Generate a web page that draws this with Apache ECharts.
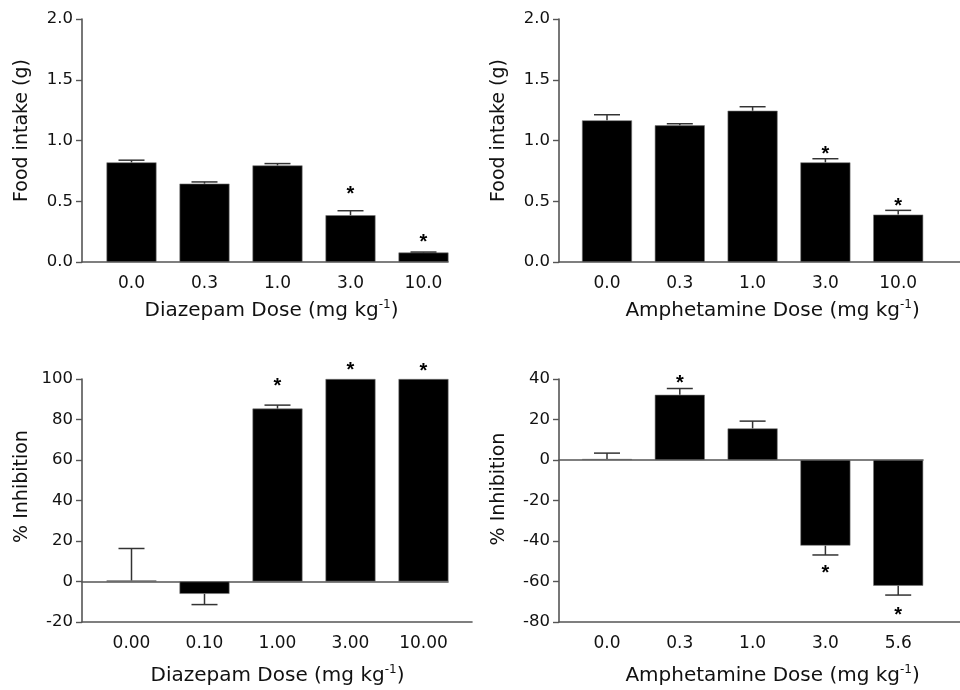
<!DOCTYPE html>
<html>
<head>
<meta charset="utf-8">
<script src="https://cdn.jsdelivr.net/npm/echarts@6/dist/echarts.min.js"></script>
<style>html,body{margin:0;padding:0;background:#fff}#c{width:960px;height:690px}</style>
</head>
<body>
<div id="c"></div>
<script>
// ---- data ----
const doseTopLabels = ['0.0', '0.3', '1.0', '3.0', '10.0'];
const diazIntake = [0.82, 0.645, 0.795, 0.385, 0.078];
const diazIntakeErr = [0.018, 0.014, 0.015, 0.037, 0.004];
const diazIntakeStars = [null, null, null, 0.593, 0.2];

const amphIntake = [1.166, 1.125, 1.245, 0.82, 0.39];
const amphIntakeErr = [0.046, 0.013, 0.033, 0.03, 0.035];
const amphIntakeStars = [null, null, null, 0.928, 0.502];

const diazInhibLabels = ['0.00', '0.10', '1.00', '3.00', '10.00'];
const diazInhib = [0.5, -6.1, 85.4, 100, 100];
const diazInhibErr = [15.8, 5.3, 1.7, 0, 0];
const diazInhibStars = [null, null, 98.6, 106.8, 106.3];

const amphInhibLabels = ['0.0', '0.3', '1.0', '3.0', '5.6'];
const amphInhib = [0.5, 32.2, 15.6, -42.3, -62.1];
const amphInhibErr = [2.9, 3.1, 3.6, 4.6, 4.6];
const amphInhibStars = [null, 40.5, null, -53.7, -74.4];

const intakeTicks = {min: 0, max: 2, interval: 0.5};
const diazInhibTicks = {min: -20, max: 100, interval: 20};
const amphInhibTicks = {min: -80, max: 40, interval: 20};

// ---- styling ----
const FONT = 'DejaVu Sans';
const AXIS_COLOR = '#555';
const TEXT_COLOR = '#111';

const grids = [], xAxes = [], yAxes = [], series = [];

function addGrid(g) { grids.push(Object.assign({containLabel: false}, g)); return grids.length - 1; }

function panel(p) {
  const top = p.top, height = 243;
  const valueAxisBase = (show, gi) => ({
    type: 'value', gridIndex: gi, min: p.ticks.min, max: p.ticks.max, interval: p.ticks.interval,
    show: show, splitLine: {show: false}
  });
  // frame grid: visible y axis + bottom axis line
  const gA = addGrid({left: p.axisLeft, width: p.axisWidth, top: top, height: height});
  xAxes.push({type: 'category', gridIndex: gA, data: p.labels,
    axisLine: {onZero: false, lineStyle: {color: AXIS_COLOR, width: 1.6}},
    axisTick: {show: false}, axisLabel: {show: false}, splitLine: {show: false}});
  const yA = valueAxisBase(true, gA);
  yA.axisLine = {show: true, lineStyle: {color: AXIS_COLOR, width: 1.6}};
  yA.axisTick = {show: true, length: 6, lineStyle: {color: AXIS_COLOR, width: 1.4}};
  yA.axisLabel = {fontFamily: FONT, fontSize: 16.5, color: TEXT_COLOR, margin: 9,
    formatter: v => p.tickFmt(v)};
  yA.name = p.yName;
  yA.nameLocation = 'middle';
  yA.nameGap = 50;
  yA.nameTextStyle = {fontFamily: FONT, fontSize: 19, color: TEXT_COLOR, padding: [0, 0, 0, p.yNameShift]};
  yAxes.push(yA);

  // zero line grid (for panels with negative range)
  if (p.zeroWidth) {
    const gZ = addGrid({left: p.axisLeft, width: p.zeroWidth, top: top, height: height});
    xAxes.push({type: 'category', gridIndex: gZ, data: p.labels,
      axisLine: {onZero: true, lineStyle: {color: AXIS_COLOR, width: 1.6}},
      axisTick: {show: false}, axisLabel: {show: false}});
    yAxes.push(valueAxisBase(false, gZ));
  }

  // bars grid
  const gB = addGrid({left: p.bandLeft, width: p.bandWidth, top: top, height: height});
  const xB = xAxes.length;
  xAxes.push({type: 'category', gridIndex: gB, data: p.labels,
    axisLine: {show: false}, axisTick: {show: false},
    axisLabel: {fontFamily: FONT, fontSize: 17, color: TEXT_COLOR, margin: 13},
    name: '{a|' + p.xName + ' (mg kg}{s|-1}{a|)}',
    nameLocation: 'middle', nameGap: p.xNameGap,
    nameTextStyle: {padding: p.xNamePad, rich: {
      a: {fontFamily: FONT, fontSize: 20, color: TEXT_COLOR, lineHeight: 24},
      s: {fontFamily: FONT, fontSize: 12, color: TEXT_COLOR, verticalAlign: 'top', lineHeight: 12}
    }}});
  const yB = yAxes.length;
  yAxes.push(valueAxisBase(false, gB));

  series.push({type: 'bar', xAxisIndex: xB, yAxisIndex: yB, data: p.values, barWidth: 50,
    itemStyle: {color: '#000', borderColor: '#777', borderWidth: 0.6}, silent: true, z: 2});

  series.push({type: 'custom', xAxisIndex: xB, yAxisIndex: yB, z: 3, silent: true,
    data: p.values.map((v, i) => [i, v, p.errs[i]]),
    renderItem: (params, api) => {
      const i = api.value(0), v = api.value(1), e = api.value(2);
      if (!e) return null;
      const p0 = api.coord([i, v]);
      const p1 = api.coord([i, v + (v >= 0 ? e : -e)]);
      const st = {stroke: '#333', lineWidth: 1.5};
      return {type: 'group', children: [
        {type: 'line', shape: {x1: p0[0], y1: p0[1], x2: p1[0], y2: p1[1]}, style: st},
        {type: 'line', shape: {x1: p1[0] - 13, y1: p1[1], x2: p1[0] + 13, y2: p1[1]}, style: st}
      ]};
    }});

  series.push({type: 'custom', xAxisIndex: xB, yAxisIndex: yB, z: 4, silent: true,
    data: p.stars.map((s, i) => [i, s]).filter(d => d[1] !== null),
    renderItem: (params, api) => {
      const c = api.coord([api.value(0), api.value(1)]);
      return {type: 'text', x: c[0], y: c[1] + 5,
        style: {text: '*', fontFamily: 'Liberation Sans', fontWeight: 'bold', fontSize: 20,
          fill: '#000', align: 'center', verticalAlign: 'middle'}};
    }});
}

const fmt1 = v => v.toFixed(1);
const fmt0 = v => String(Math.round(v));

panel({top: 19, axisLeft: 82, axisWidth: 366, bandLeft: 95, bandWidth: 365,
  labels: doseTopLabels, values: diazIntake, errs: diazIntakeErr, stars: diazIntakeStars,
  ticks: intakeTicks, tickFmt: fmt1, yName: 'Food intake (g)', yNameShift: 20,
  xName: 'Diazepam Dose', xNameGap: 37, xNamePad: [0, 12, 0, 0]});

panel({top: 19, axisLeft: 559, axisWidth: 401, bandLeft: 570.6, bandWidth: 364,
  labels: doseTopLabels, values: amphIntake, errs: amphIntakeErr, stars: amphIntakeStars,
  ticks: intakeTicks, tickFmt: fmt1, yName: 'Food intake (g)', yNameShift: 20,
  xName: 'Amphetamine Dose', xNameGap: 37, xNamePad: [0, 0, 0, 40]});

panel({top: 379, axisLeft: 82, axisWidth: 390, zeroWidth: 366, bandLeft: 95, bandWidth: 365,
  labels: diazInhibLabels, values: diazInhib, errs: diazInhibErr, stars: diazInhibStars,
  ticks: diazInhibTicks, tickFmt: fmt0, yName: '% Inhibition', yNameShift: 28,
  xName: 'Diazepam Dose', xNameGap: 42, xNamePad: [0, 0, 0, 0]});

panel({top: 379, axisLeft: 559, axisWidth: 401, zeroWidth: 364, bandLeft: 570.6, bandWidth: 364,
  labels: amphInhibLabels, values: amphInhib, errs: amphInhibErr, stars: amphInhibStars,
  ticks: amphInhibTicks, tickFmt: fmt0, yName: '% Inhibition', yNameShift: 23,
  xName: 'Amphetamine Dose', xNameGap: 42, xNamePad: [0, 0, 0, 40]});

const chart = echarts.init(document.getElementById('c'), null, {renderer: 'canvas'});
chart.setOption({animation: false, backgroundColor: '#fff', grid: grids, xAxis: xAxes, yAxis: yAxes, series: series});
</script>
</body>
</html>
